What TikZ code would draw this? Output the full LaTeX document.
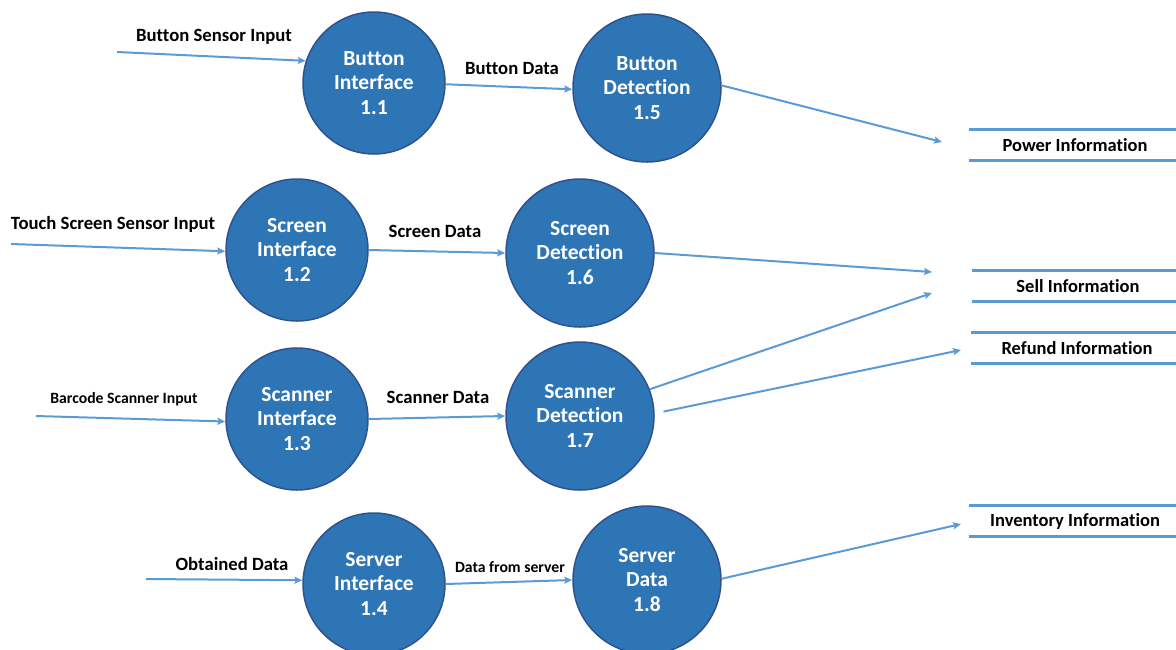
\documentclass[tikz,border=0pt]{standalone}
\usepackage{fontspec}
\setmainfont{Carlito}[Ligatures=NoCommon]
\usetikzlibrary{arrows.meta}
\definecolor{procblue}{HTML}{2E75B6}
\definecolor{procedge}{HTML}{2F528F}
\definecolor{flowblue}{HTML}{5B9BD5}
\begin{document}
\begin{tikzpicture}[x=1pt,y=-1pt,
  proc/.style={circle,fill=procblue,draw=procedge,line width=1.5pt,inner sep=0pt,minimum size=142pt,
    text=white,align=center,font=\bfseries\fontsize{21.5}{24.5}\selectfont},
  bigproc/.style={proc,minimum size=148pt},
  flow/.style={draw=flowblue,line width=2pt,-{Stealth[length=8pt,width=7pt,inset=1.5pt]}},
  lbl/.style={font=\bfseries\fontsize{18.7}{22}\selectfont},
  smalllbl/.style={font=\bfseries\fontsize{15.7}{18}\selectfont},
  store/.style={minimum width=212pt,minimum height=31pt,inner sep=0pt,font=\bfseries\fontsize{18.5}{22}\selectfont},
  storeline/.style={draw=flowblue,line width=3pt}]
\useasboundingbox (0,0) rectangle (1176,649);

\node[proc] (bi) at (374,83) {Button\\Interface\\1.1};
\node[bigproc] (bd) at (647,88) {Button\\Detection\\1.5};
\node[proc] (si) at (297,250) {Screen\\Interface\\1.2};
\node[bigproc] (sd) at (580,253) {Screen\\Detection\\1.6};
\node[proc] (ci) at (297,419) {Scanner\\Interface\\1.3};
\node[bigproc] (cd) at (580,416) {Scanner\\Detection\\1.7};
\node[proc] (vi) at (374,584) {Server\\Interface\\1.4};
\node[bigproc] (vd) at (647,580) {Server\\Data\\1.8};

\node[store] (ps) at (1075,145) {Power Information};
\node[store] (ss) at (1078,286) {Sell Information};
\node[store] (rs) at (1077,348) {Refund Information};
\node[store] (is) at (1075,521) {Inventory Information};
\foreach \s in {ps,ss,rs,is}
  \draw[storeline] (\s.north west) -- (\s.north east) (\s.south west) -- (\s.south east);

\coordinate (in1) at (117,52);
\coordinate (in2) at (11,244);
\coordinate (in3) at (36,416);
\coordinate (in4) at (146,579);
\coordinate (pw) at (942,142);
\coordinate (sl1) at (932,272);
\coordinate (sl2) at (932,293);
\coordinate (rf) at (961,350);
\coordinate (inv) at (961,524);

\draw[flow] (in1) -- (bi.162);
\draw[flow] (bi.-1) -- (bd.181);
\draw[flow] (bd.2) -- (pw);
\draw[flow] (in2) -- (si.181);
\draw[flow] (si.east) -- (sd.west);
\draw[flow] (sd.east) -- (sl1);
\draw[flow] (in3) -- (ci.182);
\draw[flow] (ci.east) -- (cd.west);
\draw[flow] (cd.21) -- (sl2);
\draw[flow,shorten <=9pt] (cd.2) -- (rf);
\draw[flow] (in4) -- (vi.177);
\draw[flow] (vi.east) -- (vd.west);
\draw[flow] (vd.1.5) -- (inv);

\node[lbl] (l1) at (214,37) {Button Sensor Input};
\node[lbl] (l2) at (512,68) {Button Data};
\node[lbl] (l3) at (113,224) {Touch Screen Sensor Input};
\node[lbl] (l4) at (435,231) {Screen Data};
\node[smalllbl] (l5) at (124,399) {Barcode Scanner Input};
\node[lbl] (l6) at (438,397) {Scanner Data};
\node[lbl] (l7) at (232,564) {Obtained Data};
\node[smalllbl] (l8) at (510,567) {Data from server};
\end{tikzpicture}
\end{document}
